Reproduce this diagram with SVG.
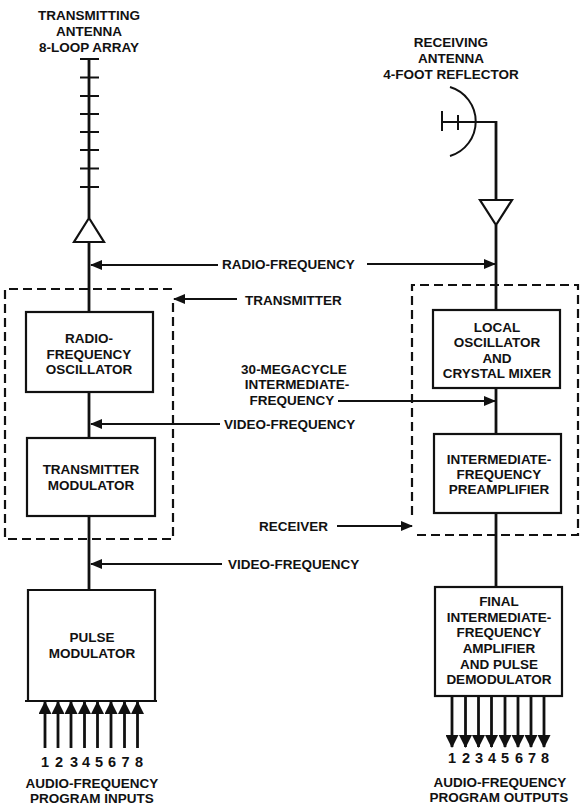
<svg xmlns="http://www.w3.org/2000/svg" width="580" height="807" viewBox="0 0 580 807">
<style>
text{font-family:"Liberation Sans",Arial,sans-serif;font-weight:bold;font-size:13.5px;fill:#111;}
.c{text-anchor:middle;}
.n{font-size:14.5px;}
.box{fill:none;stroke:#111;stroke-width:2.2;}
.dash{fill:none;stroke:#111;stroke-width:2.2;stroke-dasharray:9,5;}
.ln{fill:none;stroke:#111;stroke-width:2.8;}
.thin{fill:none;stroke:#111;stroke-width:2;}
</style>
<defs>
<marker id="arr" markerUnits="userSpaceOnUse" markerWidth="12" markerHeight="10" refX="11" refY="5" orient="auto">
<path d="M0,0 L12,5 L0,10 z" fill="#111"/>
</marker>
<marker id="big" markerUnits="userSpaceOnUse" markerWidth="13" markerHeight="13" refX="12" refY="6.5" orient="auto">
<path d="M0,0 L13,6.5 L0,13 z" fill="#111"/>
</marker>
</defs>

<g id="tx-antenna">
<text class="c" x="89" y="20">TRANSMITTING</text>
<text class="c" x="89" y="36">ANTENNA</text>
<text class="c" x="89" y="52">8-LOOP ARRAY</text>
<line class="ln" x1="89" y1="58" x2="89" y2="218"/>
<g class="thin">
<line x1="80" y1="59" x2="99" y2="59"/>
<line x1="80" y1="77.5" x2="99" y2="77.5"/>
<line x1="80" y1="96" x2="99" y2="96"/>
<line x1="80" y1="114" x2="99" y2="114"/>
<line x1="80" y1="132" x2="99" y2="132"/>
<line x1="80" y1="150" x2="99" y2="150"/>
<line x1="80" y1="168.5" x2="99" y2="168.5"/>
<line x1="80" y1="187" x2="99" y2="187"/>
</g>
<polygon class="box" points="89,218 74,242 104,242"/>
</g>

<g id="rx-antenna">
<text class="c" x="451" y="47">RECEIVING</text>
<text class="c" x="451" y="63">ANTENNA</text>
<text class="c" x="451" y="79">4-FOOT REFLECTOR</text>
<path class="thin" d="M450,87 A36,36 0 0 1 450,156"/>
<line class="thin" x1="442" y1="122" x2="496" y2="122"/>
<line class="thin" x1="442" y1="111" x2="442" y2="131"/>
<line class="thin" x1="458" y1="115" x2="458" y2="130"/>
<line class="ln" x1="496" y1="121" x2="496" y2="200"/>
<polygon class="box" points="480,200 512,200 496,225"/>
</g>

<g id="transmitter">
<path class="dash" d="M172,289 L5,289 L5,539 L173,539 L173,300"/>
<text x="245" y="305">TRANSMITTER</text>
</g>

<g id="receiver">
<path class="dash" d="M412,515 L412,285 L578,285 L578,535 L412,535"/>
<text x="259" y="531">RECEIVER</text>
</g>

<g id="rf-osc">
<rect class="box" x="26" y="312" width="127" height="80"/>
<text class="c" x="89" y="343">RADIO-</text>
<text class="c" x="89" y="359">FREQUENCY</text>
<text class="c" x="89" y="374">OSCILLATOR</text>
</g>

<g id="tx-mod">
<rect class="box" x="27" y="438" width="128" height="78"/>
<text class="c" x="91" y="474">TRANSMITTER</text>
<text class="c" x="91" y="490">MODULATOR</text>
</g>

<g id="pulse-mod">
<path class="box" d="M28,701 L28,590 L155,590 L155,701 M25,701 L157,701"/>
<text class="c" x="92" y="642">PULSE</text>
<text class="c" x="92" y="658">MODULATOR</text>
</g>

<g id="lo-mixer">
<rect class="box" x="433" y="310" width="127" height="78"/>
<text class="c" x="497" y="332">LOCAL</text>
<text class="c" x="497" y="347">OSCILLATOR</text>
<text class="c" x="497" y="363">AND</text>
<text class="c" x="497" y="378">CRYSTAL MIXER</text>
</g>

<g id="if-preamp">
<rect class="box" x="434" y="434" width="127" height="79"/>
<text class="c" x="499" y="464">INTERMEDIATE-</text>
<text class="c" x="499" y="479">FREQUENCY</text>
<text class="c" x="499" y="494">PREAMPLIFIER</text>
</g>

<g id="final-if">
<rect class="box" x="435" y="587" width="127" height="109"/>
<text class="c" x="499" y="606">FINAL</text>
<text class="c" x="499" y="621.5">INTERMEDIATE-</text>
<text class="c" x="499" y="637">FREQUENCY</text>
<text class="c" x="499" y="653">AMPLIFIER</text>
<text class="c" x="499" y="668.5">AND PULSE</text>
<text class="c" x="499" y="684">DEMODULATOR</text>
</g>

<g id="inputs">
<text class="c n" x="45" y="767">1</text>
<text class="c n" x="59" y="767">2</text>
<text class="c n" x="74" y="767">3</text>
<text class="c n" x="86" y="767">4</text>
<text class="c n" x="99" y="767">5</text>
<text class="c n" x="112" y="767">6</text>
<text class="c n" x="125.5" y="767">7</text>
<text class="c n" x="139" y="767">8</text>
<text class="c" x="92" y="788">AUDIO-FREQUENCY</text>
<text class="c" x="92" y="803">PROGRAM INPUTS</text>
</g>

<g id="outputs">
<text class="c n" x="452" y="763">1</text>
<text class="c n" x="466" y="763">2</text>
<text class="c n" x="479" y="763">3</text>
<text class="c n" x="492" y="763">4</text>
<text class="c n" x="505" y="763">5</text>
<text class="c n" x="519" y="763">6</text>
<text class="c n" x="532" y="763">7</text>
<text class="c n" x="545" y="763">8</text>
<text class="c" x="500" y="787">AUDIO-FREQUENCY</text>
<text class="c" x="499" y="802">PROGRAM OUTPUTS</text>
</g>

<g id="labels">
<text x="222" y="269">RADIO-FREQUENCY</text>
<text x="224" y="429">VIDEO-FREQUENCY</text>
<text x="228" y="569">VIDEO-FREQUENCY</text>
<text class="c" x="294" y="374">30-MEGACYCLE</text>
<text class="c" x="297" y="389">INTERMEDIATE-</text>
<text class="c" x="292" y="405">FREQUENCY</text>
</g>

<g id="connectors">
<line class="ln" x1="89" y1="242" x2="89" y2="312"/>
<line class="ln" x1="89" y1="392" x2="89" y2="438"/>
<line class="ln" x1="89" y1="516" x2="89" y2="590"/>
<line class="ln" x1="496" y1="225" x2="496" y2="310"/>
<line class="ln" x1="496" y1="388" x2="496" y2="434"/>
<line class="ln" x1="496" y1="513" x2="496" y2="587"/>

<line class="thin" x1="218" y1="265" x2="91" y2="265" marker-end="url(#arr)"/>
<line class="thin" x1="367" y1="264" x2="495" y2="264" marker-end="url(#arr)"/>
<line class="thin" x1="237" y1="299" x2="174" y2="299" marker-end="url(#arr)"/>
<line class="thin" x1="220" y1="424" x2="91" y2="424" marker-end="url(#arr)"/>
<line class="thin" x1="222" y1="564" x2="91" y2="564" marker-end="url(#arr)"/>
<line class="thin" x1="338" y1="401" x2="495" y2="401" marker-end="url(#arr)"/>
<line class="thin" x1="337" y1="526" x2="412" y2="526" marker-end="url(#arr)"/>

<g class="ln">
<line x1="45" y1="748" x2="45" y2="702" marker-end="url(#big)"/>
<line x1="58" y1="748" x2="58" y2="702" marker-end="url(#big)"/>
<line x1="71" y1="748" x2="71" y2="702" marker-end="url(#big)"/>
<line x1="84.5" y1="748" x2="84.5" y2="702" marker-end="url(#big)"/>
<line x1="97.5" y1="748" x2="97.5" y2="702" marker-end="url(#big)"/>
<line x1="111" y1="748" x2="111" y2="702" marker-end="url(#big)"/>
<line x1="124.5" y1="748" x2="124.5" y2="702" marker-end="url(#big)"/>
<line x1="137.5" y1="748" x2="137.5" y2="702" marker-end="url(#big)"/>

<line x1="452" y1="697" x2="452" y2="747" marker-end="url(#big)"/>
<line x1="465.5" y1="697" x2="465.5" y2="747" marker-end="url(#big)"/>
<line x1="478.5" y1="697" x2="478.5" y2="747" marker-end="url(#big)"/>
<line x1="491.5" y1="697" x2="491.5" y2="747" marker-end="url(#big)"/>
<line x1="505" y1="697" x2="505" y2="747" marker-end="url(#big)"/>
<line x1="518" y1="697" x2="518" y2="747" marker-end="url(#big)"/>
<line x1="531" y1="697" x2="531" y2="747" marker-end="url(#big)"/>
<line x1="544" y1="697" x2="544" y2="747" marker-end="url(#big)"/>
</g>
</g>
</svg>
